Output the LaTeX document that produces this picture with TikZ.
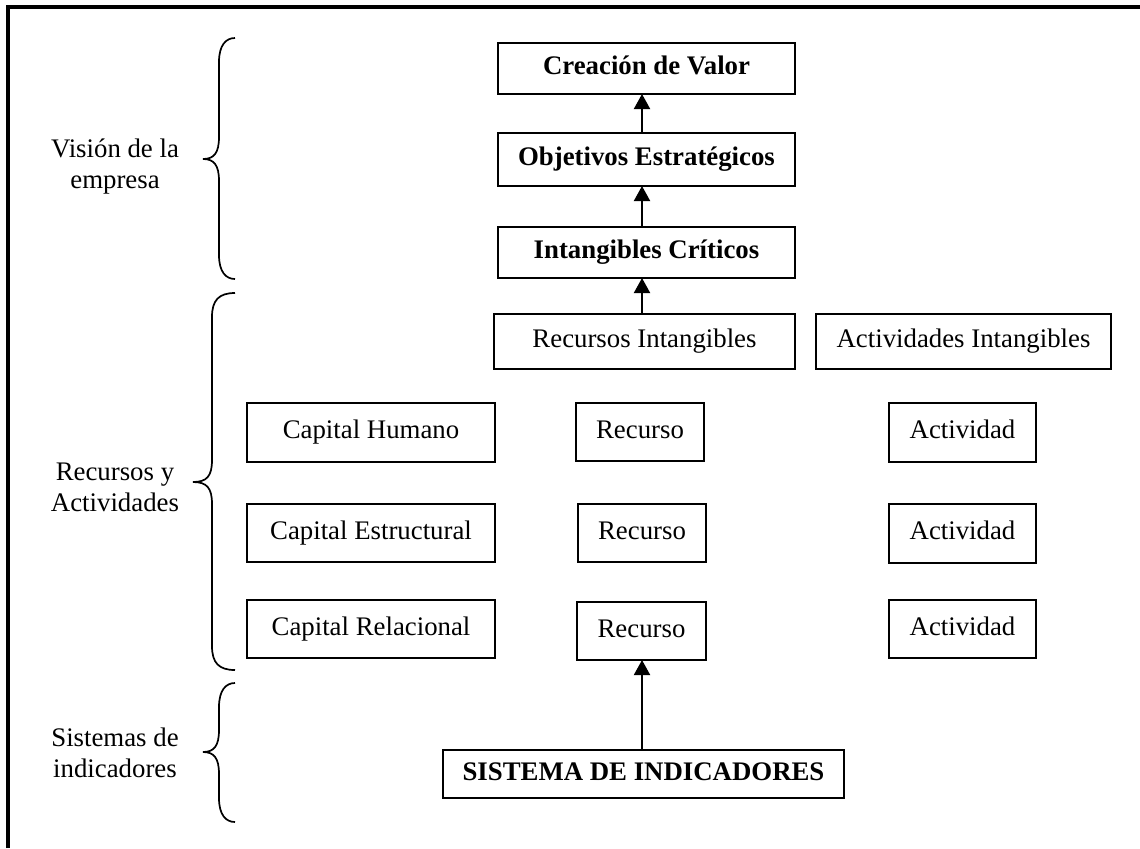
\documentclass[tikz,border=0pt]{standalone}
\usepackage{fontspec}
\setmainfont{Liberation Serif}
\usetikzlibrary{arrows.meta}

% left curly brace: end x, stem x, tip x, top y, tip y, bottom y
\newcommand\vbrace[6]{%
  \draw[bracestroke] (#1,#4) .. controls (#2+7,#4) and (#2,#4+7) .. (#2,#4+24)
    -- (#2,#5-22) .. controls (#2,#5-6) and (#2-5,#5) .. (#3,#5)
    .. controls (#2-5,#5) and (#2,#5+6) .. (#2,#5+22)
    -- (#2,#6-24) .. controls (#2,#6-7) and (#2+7,#6) .. (#1,#6);}

\begin{document}
\begin{tikzpicture}[x=0.5pt, y=-0.5pt,
  font=\fontsize{13.4}{15.5}\selectfont,
  box/.style n args={2}{draw, line width=1pt, inner sep=0pt, outer sep=0pt,
    text height=9.4pt, text depth=3.1pt,
    minimum width=#1*0.5pt, minimum height=#2*0.5pt},
  bbox/.style n args={2}{box={#1}{#2}, font=\fontsize{13.4}{15.5}\selectfont\bfseries},
  arr/.style={line width=1pt, -{Triangle[length=7.5pt, width=8pt]}},
  bracestroke/.style={line width=0.85pt},
  label/.style={align=center, inner sep=0pt}]
\useasboundingbox (0,0) rectangle (1140,848);

% frame edges
\draw[line width=2pt] (8,848) -- (8,7) -- (1140,7);

% upper chain
\node[bbox={297}{51}] (creacion) at (646.5,68.5) {Creación de Valor};
\node[bbox={297}{53}] (objetivos) at (646.5,159.5) {Objetivos Estratégicos};
\node[bbox={297}{51}] (criticos) at (646.5,252.5) {Intangibles Críticos};

\node[box={301}{55}] (recint) at (644.5,341.5) {Recursos Intangibles};
\node[box={295}{55}] (actint) at (963.5,341.5) {Actividades Intangibles};

% capitals
\node[box={248}{59}] (humano) at (371,432.5) {Capital Humano};
\node[box={248}{58}] (estructural) at (371,533) {Capital Estructural};
\node[box={248}{58}] (relacional) at (371,629) {Capital Relacional};

% resources
\node[box={128}{58}] (rec1) at (640,432) {Recurso};
\node[box={128}{58}] (rec2) at (642,533) {Recurso};
\node[box={129}{58}] (rec3) at (641.5,631) {Recurso};

% activities
\node[box={147}{59}] (act1) at (962.5,432.5) {Actividad};
\node[box={147}{59}] (act2) at (962.5,533.5) {Actividad};
\node[box={147}{58}] (act3) at (962.5,629) {Actividad};

\node[bbox={401}{48}] (sistema) at (643.5,774) {SISTEMA DE INDICADORES};

% arrows
\coordinate (ax) at (642,0);
\draw[arr] (objetivos.north -| ax) -- (creacion.south -| ax);
\draw[arr] (criticos.north -| ax) -- (objetivos.south -| ax);
\draw[arr] (recint.north -| ax) -- (criticos.south -| ax);
\draw[arr] (sistema.north -| ax) -- (rec3.south -| ax);

% braces
\vbrace{235}{219}{203}{38}{159}{279}
\vbrace{235}{212}{193}{293}{482}{670}
\vbrace{235}{219}{203}{683}{752}{822}

% side labels
\node[label] (vision) at (115,167) {Visión de la\\empresa};
\node[label] (recact) at (115,487) {Recursos y\\Actividades};
\node[label] (sisind) at (115,753) {Sistemas de\\indicadores};
\end{tikzpicture}
\end{document}
